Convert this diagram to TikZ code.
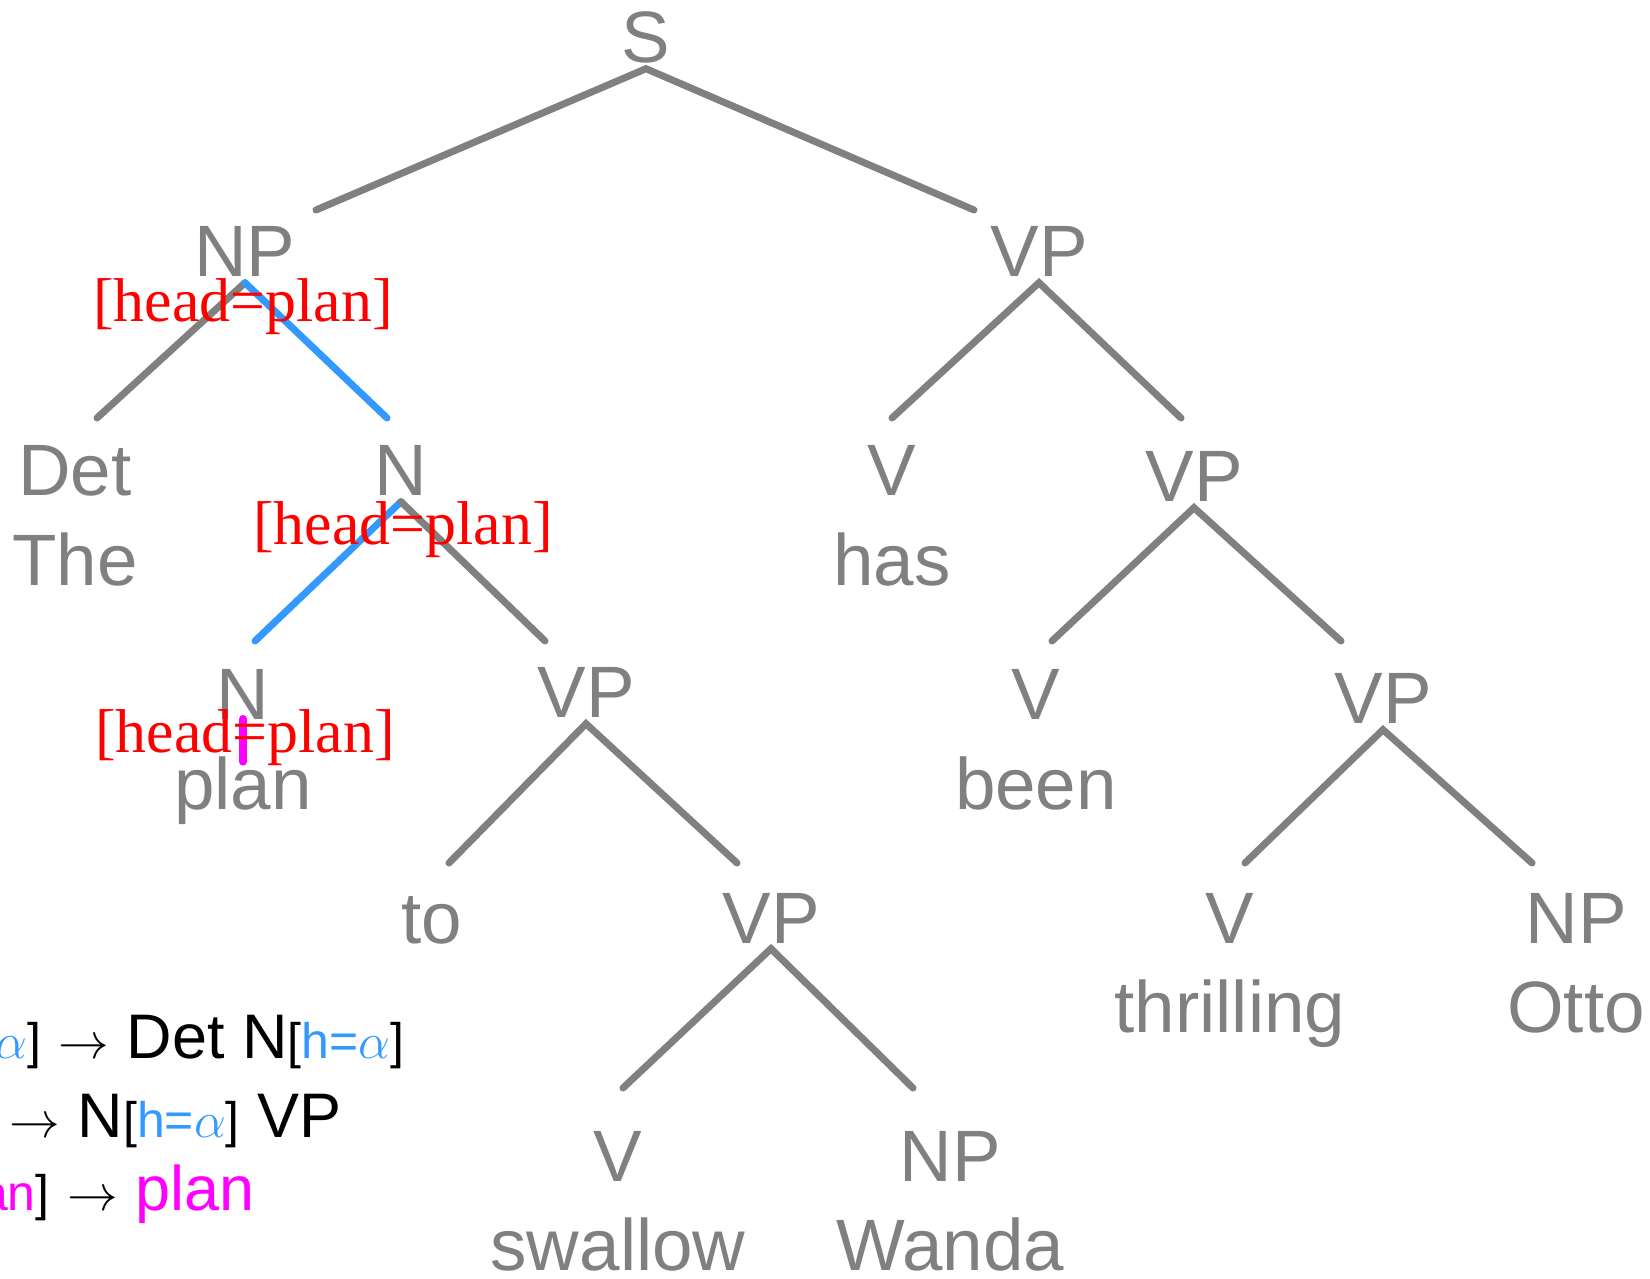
\documentclass[tikz,border=0pt]{standalone}
\usepackage{fontspec}
\setmainfont{Liberation Serif}
\newfontfamily\treefont{Liberation Sans}
\usepackage{xcolor}

\definecolor{treegray}{HTML}{808080}
\definecolor{headblue}{HTML}{3399FF}
\definecolor{lexmagenta}{HTML}{FF00FF}

% small bracketed feature list and the rewrite arrow
\newcommand{\hsub}[1]{{\fontsize{14.2}{16}\selectfont[#1]}}
\newcommand{\harrow}{{\fontsize{14}{16}\selectfont$\rightarrow$}}

\begin{document}
\begin{tikzpicture}[x=0.01cm, y=-0.01cm,
  cat/.style={font=\treefont\fontsize{20.7}{24}\selectfont, text=treegray,
    anchor=base, text depth=0pt, inner xsep=0pt, inner ysep=0.05cm},
  word/.style={font=\treefont\fontsize{20.7}{24}\selectfont, text=treegray,
    anchor=base, inner sep=0pt},
  feat/.style={font=\fontsize{17.6}{20}\selectfont, text=red, anchor=base, inner sep=0pt},
  rule/.style={font=\treefont\fontsize{17.9}{21}\selectfont, anchor=base east, inner sep=0pt},
  branch/.style={draw=treegray, line width=2pt, line cap=round},
  headline/.style={draw=headblue, line width=2pt, line cap=round},
  lexline/.style={draw=lexmagenta, line width=2.3pt, line cap=round}]

\useasboundingbox (0,0) rectangle (1650,1279);
\clip (0,0) rectangle (1650,1279);

% categories
\node[cat] (s)        at (646,63)   {S};
\node[cat] (np)       at (245,277)  {NP};
\node[cat] (vp)       at (1039,277) {VP};
\node[cat] (det)      at (75,496)   {Det};
\node[cat] (n_top)    at (401,496)  {N};
\node[cat] (v_has)    at (892,496)  {V};
\node[cat] (vp_been)  at (1194,502) {VP};
\node[cat] (n_plan)   at (243,719)  {N};
\node[cat] (vp_to)    at (586,718)  {VP};
\node[cat] (v_been)   at (1036,719) {V};
\node[cat] (vp_thr)   at (1383,724) {VP};
\node[cat] (vp_swal)  at (771,943)  {VP};
\node[cat] (v_thr)    at (1230,943) {V};
\node[cat] (np_otto)  at (1576,943) {NP};
\node[cat] (v_swal)   at (618,1182) {V};
\node[cat] (np_wanda) at (950,1182) {NP};

% words
\node[word] (w_the)      at (75,586)    {The};
\node[word] (w_has)      at (892,586)   {has};
\node[word] (w_plan)     at (243,810)   {plan};
\node[word] (w_been)     at (1036,810)  {been};
\node[word] (w_to)       at (432,943)   {to};
\node[word] (w_thr)      at (1230,1033) {thrilling};
\node[word] (w_otto)     at (1576,1033) {Otto};
\node[word] (w_swal)     at (618,1271)  {swallow};
\node[word] (w_wanda)    at (950,1271)  {Wanda};

% branch feet
\coordinate (np_f)       at (316,210);
\coordinate (vp_f)       at (974,210);
\coordinate (det_f)      at (97,418);
\coordinate (n_top_f)    at (387,418);
\coordinate (v_has_f)    at (892,418);
\coordinate (vp_been_f)  at (1181,418);
\coordinate (n_plan_f)   at (255,641);
\coordinate (vp_to_f)    at (545,641);
\coordinate (v_been_f)   at (1052,641);
\coordinate (vp_thr_f)   at (1341,641);
\coordinate (w_to_f)     at (449,863);
\coordinate (vp_swal_f)  at (737,863);
\coordinate (v_thr_f)    at (1245,863);
\coordinate (np_otto_f)  at (1532,863);
\coordinate (v_swal_f)   at (623,1088);
\coordinate (np_wanda_f) at (913,1088);

\draw[branch] (np_f) -- (s.south) -- (vp_f);
\draw[branch] (det_f) -- (np.south);
\draw[headline] (np.south) -- (n_top_f);
\draw[branch] (v_has_f) -- (vp.south) -- (vp_been_f);
\draw[headline] (n_plan_f) -- (n_top.south);
\draw[branch] (n_top.south) -- (vp_to_f);
\draw[branch] (v_been_f) -- (vp_been.south) -- (vp_thr_f);
\draw[branch] (w_to_f) -- (vp_to.south) -- (vp_swal_f);
\draw[branch] (v_thr_f) -- (vp_thr.south) -- (np_otto_f);
\draw[branch] (v_swal_f) -- (vp_swal.south) -- (np_wanda_f);
\draw[lexline, shorten >=-0.05cm] (n_plan.base) -- (w_plan.north);

% head features
\node[feat] (feat_np)   at (243,322) {[head=plan]};
\node[feat] (feat_n)    at (403,545) {[head=plan]};
\node[feat] (feat_lex)  at (245,753) {[head=plan]};

% rules
\node[rule] (rule_1) at (405,1058)
  {NP\hsub{\textcolor{headblue}{h=$\alpha$}} \harrow{} Det N\hsub{\textcolor{headblue}{h=$\alpha$}}};
\node[rule] (rule_2) at (342,1137)
  {N\hsub{\textcolor{headblue}{h=$\alpha$}} \harrow{} N\hsub{\textcolor{headblue}{h=$\alpha$}} VP};
\node[rule] (rule_3) at (255,1210)
  {N\hsub{\textcolor{lexmagenta}{h=plan}} \harrow{} \textcolor{lexmagenta}{plan}};

\end{tikzpicture}
\end{document}
